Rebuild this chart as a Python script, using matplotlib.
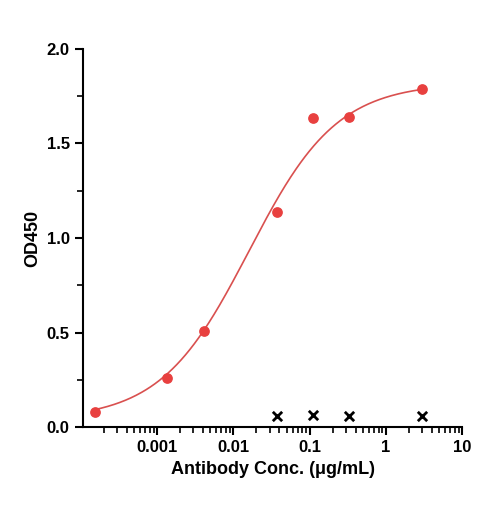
import numpy as np
import matplotlib
matplotlib.use("Agg")
import matplotlib.pyplot as plt
from matplotlib.ticker import LogLocator, NullFormatter, FixedLocator

plt.rcParams['font.family'] = ['Liberation Sans', 'DejaVu Sans']

conc = [0.000152, 0.00137, 0.0041, 0.037, 0.111, 0.333, 3.0]
od = [0.08, 0.26, 0.51, 1.14, 1.635, 1.64, 1.785]
ctrl_conc = [0.037, 0.111, 0.333, 3.0]
ctrl_od = [0.06, 0.063, 0.06, 0.06]
# 4PL fit parameters: bottom, top, EC50, hill
fit_bottom, fit_top, fit_ec50, fit_hill = 0.04, 1.82, 0.016, 0.75

fig = plt.figure(figsize=(4.85, 5.08), dpi=100)
ax = fig.add_axes([0.171, 0.159, 0.782, 0.745])
xs = np.logspace(np.log10(0.000152), np.log10(3.0), 300)
ys = fit_bottom + (fit_top - fit_bottom) / (1 + (fit_ec50 / xs) ** fit_hill)
ax.plot(xs, ys, color="#d9504f", lw=1.2)
ax.scatter(conc, od, color="#e8403f", s=45, zorder=3)
ax.scatter(ctrl_conc, ctrl_od, color="black", marker="x", s=45, lw=2.0, zorder=3)
ax.set_xscale("log")
ax.set_xlim(1.07e-4, 10)
ax.set_ylim(0, 2.0)
ax.set_yticks([0, 0.5, 1.0, 1.5, 2.0])
ax.set_yticklabels(["0.0", "0.5", "1.0", "1.5", "2.0"])
ax.yaxis.set_minor_locator(FixedLocator([0.25, 0.75, 1.25, 1.75]))
ax.set_xticks([0.001, 0.01, 0.1, 1, 10])
ax.set_xticklabels(["0.001", "0.01", "0.1", "1", "10"])
ax.xaxis.set_minor_locator(LogLocator(base=10, subs=np.arange(2, 10)))
ax.xaxis.set_minor_formatter(NullFormatter())
for s in ["top", "right"]:
    ax.spines[s].set_visible(False)
for s in ["left", "bottom"]:
    ax.spines[s].set_linewidth(1.5)
ax.tick_params(which="major", length=6, width=1.5, labelsize=12)
ax.tick_params(which="minor", length=4, width=1.2)
for lab in ax.get_xticklabels() + ax.get_yticklabels():
    lab.set_fontweight("bold")
ax.set_xlabel("Antibody Conc. (μg/mL)", fontsize=13, fontweight="bold")
ax.set_ylabel("OD450", fontsize=13, fontweight="bold")
fig.savefig("out.png", dpi=100)
